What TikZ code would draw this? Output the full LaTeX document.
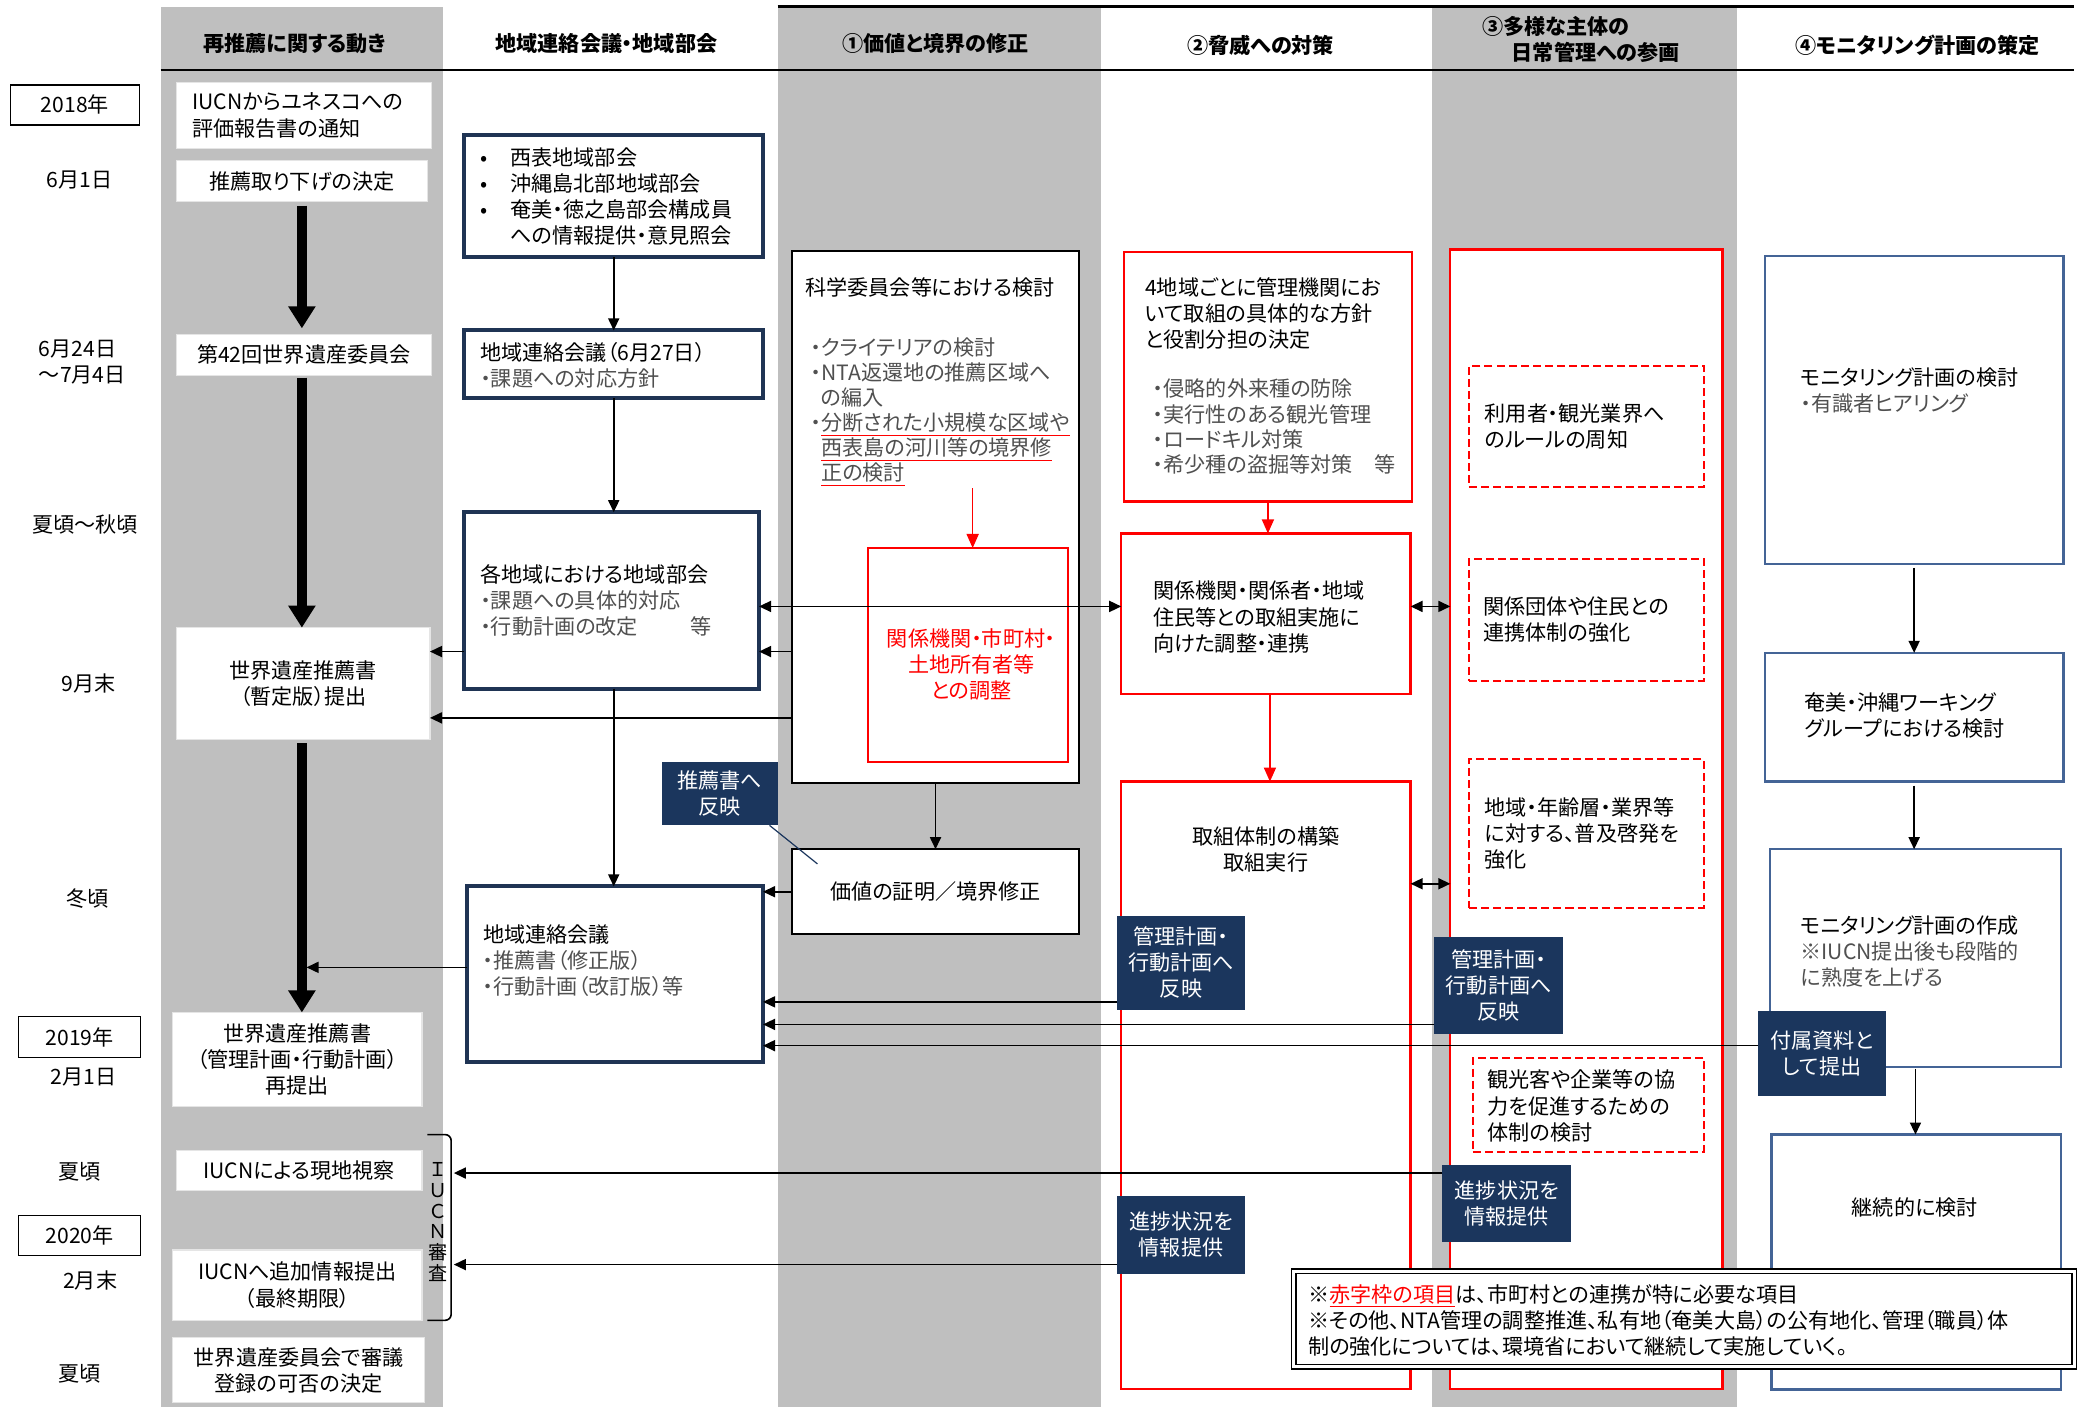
\documentclass[tikz,border=0pt]{standalone}
\usepackage{fontspec}
\setmainfont{Noto Sans CJK JP}[RawFeature=+palt]
\usetikzlibrary{arrows.meta}
\definecolor{colgray}{RGB}{191,191,191}
\definecolor{navyb}{RGB}{31,52,84}
\definecolor{navyf}{RGB}{27,54,93}
\definecolor{steel}{RGB}{68,100,150}
\definecolor{txtgray}{RGB}{80,80,80}
\definecolor{rd}{RGB}{255,0,0}
\newdimen\pxu \pxu=0.66pt
\newcommand\myind{\hphantom{・}}
\newcommand\rul[1]{{\color{rd}\underline{\textcolor{txtgray}{#1}}}}
\tikzset{
  tt/.tip={Triangle[width=5.5pt,length=6pt]},
  rt/.tip={Triangle[width=6pt,length=7pt]},
  bt/.tip={Triangle[width=13pt,length=11pt]},
}
\begin{document}
\begin{tikzpicture}[x=0.66pt,y=-0.66pt,
  font=\fontsize{10.5}{13}\selectfont,
  every node/.style={inner sep=0pt,outer sep=0pt},
  wbox/.style={draw=black!10,fill=white,line width=0.6pt},
  nbox/.style={draw=navyb,line width=2pt,fill=white},
  kbox/.style={draw=black,line width=1.1pt,fill=white},
  rbox/.style={draw=rd,line width=1.1pt,fill=white},
  rdash/.style={draw=rd,line width=1pt,dash pattern=on 4pt off 2pt,fill=white},
  bbox/.style={draw=steel,line width=1.2pt,fill=white},
  dbox/.style={fill=navyf,text=white,align=center},
  tbox/.style={draw=black,line width=0.8pt,fill=white},
  hdr/.style={font=\fontsize{10.5}{13}\selectfont\bfseries},
  arr/.style={-tt,line width=0.8pt},
  darr/.style={tt-tt,line width=0.8pt},
  rarr/.style={-rt,draw=rd,line width=0.8pt},
  bigarr/.style={-bt,line width=5pt},
  gl/.style={text=txtgray,align=left},
]
\useasboundingbox (0,0) rectangle (1566,1060.3);
% columns
\fill[colgray] (121,5) rectangle (334,1061);
\fill[colgray] (586,5) rectangle (830,1061);
\fill[colgray] (1079,5) rectangle (1309,1061);
\draw[line width=1.5pt] (586,5) -- (1563,5);
\draw[line width=1pt] (121,53) -- (1563,53);
% headers
\node[hdr] (h1) at (222,33) {再推薦に関する動き};
\node[hdr] (h2) at (457,33) {地域連絡会議・地域部会};
\node[hdr] (h3) at (705,33) {①価値と境界の修正};
\node[hdr] (h4) at (950,34) {②脅威への対策};
\node[hdr,anchor=west,align=left] (h5) at (1117,30) {③多様な主体の\\\hspace*{1.4em}日常管理への参画};
\node[hdr] (h6) at (1445,34) {④モニタリング計画の策定};
% time labels
\node[tbox,minimum width=97\pxu,minimum height=30\pxu] (y18) at (56.5,79) {2018年};
\node (t1) at (60,136) {6月1日};
\node[align=left] (t2) at (62,273) {6月24日\\～7月4日};
\node (t3) at (64,395) {夏頃～秋頃};
\node (t4) at (67,515) {9月末};
\node (t5) at (66,677) {冬頃};
\node[tbox,minimum width=92\pxu,minimum height=31\pxu] (y19) at (60,781.5) {2019年};
\node (t6) at (63,812) {2月1日};
\node (t7) at (60,883) {夏頃};
\node[tbox,minimum width=92\pxu,minimum height=30\pxu] (y20) at (60,931) {2020年};
\node (t8) at (68,965) {2月末};
\node (t9) at (60,1035) {夏頃};
% column 1
\node[wbox,minimum width=192\pxu,minimum height=50\pxu] (n1) at (229,87) {};
\node[anchor=west,align=left] (n1t) at (145,87) {IUCNからユネスコへの\\評価報告書の通知};
\node[wbox,minimum width=189\pxu,minimum height=31\pxu] (n2) at (227.5,136.5) {推薦取り下げの決定};
\node[wbox,minimum width=192\pxu,minimum height=31\pxu] (n3) at (229,267.5) {第42回世界遺産委員会};
\node[wbox,minimum width=191\pxu,minimum height=84\pxu,align=center] (n4) at (228.5,515) {世界遺産推薦書\\（暫定版）提出};
\node[wbox,minimum width=188\pxu,minimum height=71\pxu,align=center] (n5) at (224,798.5) {世界遺産推薦書\\（管理計画・行動計画）\\再提出};
\node[wbox,minimum width=185\pxu,minimum height=30\pxu] (n6) at (225.5,882) {IUCNによる現地視察};
\node[wbox,minimum width=188\pxu,minimum height=53\pxu,align=center] (n7) at (224,968.5) {IUCNへ追加情報提出\\（最終期限）};
\node[wbox,minimum width=190\pxu,minimum height=49\pxu,align=center] (n8) at (225,1032.5) {世界遺産委員会で審議\\登録の可否の決定};
\draw[bigarr,shorten <=2pt,shorten >=3pt] (n2.south) -- (n2.south |- n3.north);
\draw[bigarr,shorten <=1pt] (n3.south -| n2.south) -- (n2.south |- n4.north);
\draw[bigarr,shorten <=2pt] (n4.south -| n2.south) -- (n2.south |- n5.north);
% IUCN bracket
\draw[line width=0.8pt,rounded corners=3pt] (322,855) -- (340,855) -- (340,995) -- (322,995);
\node[align=center,font=\fontsize{9.5}{10.3}\selectfont] (iucn) at (330,921) {Ｉ\\Ｕ\\Ｃ\\Ｎ\\審\\査};
\coordinate (br1) at (342,884);
\coordinate (br2) at (342,953);
% column 2
\node[nbox,minimum width=225\pxu,minimum height=92\pxu] (A) at (462.5,148) {};
\node[anchor=west,align=left] (At) at (362,148) {\makebox[15pt][l]{•}西表地域部会\\\makebox[15pt][l]{•}沖縄島北部地域部会\\\makebox[15pt][l]{•}奄美・徳之島部会構成員\\\hspace*{15pt}への情報提供・意見照会};
\node[nbox,minimum width=225\pxu,minimum height=51\pxu] (B) at (462.5,274.5) {};
\node[anchor=west,align=left] (Bt) at (362,275) {地域連絡会議（6月27日）\\\textcolor{txtgray}{・課題への対応方針}};
\node[nbox,minimum width=222\pxu,minimum height=133\pxu] (C) at (461,452.5) {};
\node[anchor=west,align=left] (Ct) at (362,452.5) {各地域における地域部会\\\textcolor{txtgray}{・課題への具体的対応}\\\textcolor{txtgray}{・行動計画の改定\hspace{2.5em}等}};
\node[nbox,minimum width=223\pxu,minimum height=132\pxu] (D) at (463.5,734) {};
\node[anchor=west,align=left] (Dt) at (364,724) {地域連絡会議\\\textcolor{txtgray}{・推薦書（修正版）}\\\textcolor{txtgray}{・行動計画（改訂版）等}};
% column 3
\node[kbox,minimum width=216\pxu,minimum height=401\pxu] (K1) at (705,389.5) {};
\node[anchor=west] (K1t) at (607,217) {科学委員会等における検討};
\node[gl,anchor=west,font=\fontsize{10.5}{12.5}\selectfont] (K1l) at (611,310.5) {・クライテリアの検討\\・NTA返還地の推薦区域へ\\\myind の編入\\・\rul{分断された小規模な区域や}\\\myind\rul{西表島の河川等の境界修}\\\myind\rul{正の検討}};
\node[rbox,minimum width=151\pxu,minimum height=161\pxu] (R1) at (729.5,493.5) {};
\node[align=center,text=rd] (R1t) at (732,501) {関係機関・市町村・\\土地所有者等\\との調整};
\node[kbox,minimum width=216\pxu,minimum height=64\pxu] (K2) at (705,672) {価値の証明／境界修正};
\node[dbox,minimum width=87\pxu,minimum height=48\pxu] (D1) at (542.5,598) {推薦書へ\\反映};
% column 4
\node[rbox,minimum width=217\pxu,minimum height=188\pxu] (R2) at (955.5,284) {};
\node[anchor=west,align=left] (R2t) at (863,236.5) {4地域ごとに管理機関にお\\いて取組の具体的な方針\\と役割分担の決定};
\node[gl,anchor=west,font=\fontsize{10.5}{12.5}\selectfont] (R2l) at (869,321.5) {・侵略的外来種の防除\\・実行性のある観光管理\\・ロードキル対策\\・希少種の盗掘等対策\hspace{1em}等};
\node[rbox,minimum width=218\pxu,minimum height=121\pxu] (R3) at (954,462.5) {};
\node[anchor=west,align=left] (R3t) at (869,465) {関係機関・関係者・地域\\住民等との取組実施に\\向けた調整・連携};
\node[rbox,minimum width=218\pxu,minimum height=458\pxu] (R4) at (954,818) {};
\node[align=center] (R4t) at (954,640) {取組体制の構築\\取組実行};
\node[dbox,minimum width=96\pxu,minimum height=71\pxu] (D2) at (890,725.5) {管理計画・\\行動計画へ\\反映};
\node[dbox,minimum width=96\pxu,minimum height=59\pxu] (D3) at (890,930.5) {進捗状況を\\情報提供};
% column 5
\node[rbox,minimum width=205\pxu,minimum height=859\pxu] (R5) at (1195.5,617.5) {};
\node[rdash,minimum width=177\pxu,minimum height=91\pxu] (RD1) at (1195.5,321.5) {};
\node[anchor=west,align=left] (RD1t) at (1119,321.5) {利用者・観光業界へ\\のルールの周知};
\node[rdash,minimum width=177\pxu,minimum height=92\pxu] (RD2) at (1195.5,467) {};
\node[anchor=west,align=left] (RD2t) at (1118,467) {関係団体や住民との\\連携体制の強化};
\node[rdash,minimum width=177\pxu,minimum height=112\pxu] (RD3) at (1195.5,628) {};
\node[anchor=west,align=left] (RD3t) at (1119,628) {地域・年齢層・業界等\\に対する、普及啓発を\\強化};
\node[rdash,minimum width=174\pxu,minimum height=71\pxu] (RD4) at (1197,832.5) {};
\node[anchor=west,align=left] (RD4t) at (1121,833.5) {観光客や企業等の協\\力を促進するための\\体制の検討};
\node[dbox,minimum width=97\pxu,minimum height=73\pxu] (D4) at (1129.5,742.5) {管理計画・\\行動計画へ\\反映};
\node[dbox,minimum width=97\pxu,minimum height=58\pxu] (D5) at (1135.5,907) {進捗状況を\\情報提供};
% column 6
\node[bbox,minimum width=225\pxu,minimum height=232\pxu] (B1) at (1442.5,309) {};
\node[anchor=west,align=left] (B1t) at (1357,294.5) {モニタリング計画の検討\\\textcolor{txtgray}{・有識者ヒアリング}};
\node[bbox,minimum width=225\pxu,minimum height=97\pxu] (B2) at (1442.5,540.5) {};
\node[anchor=west,align=left] (B2t) at (1360,539) {奄美・沖縄ワーキング\\グループにおける検討};
\node[bbox,minimum width=219\pxu,minimum height=164\pxu] (B3) at (1443.5,722) {};
\node[anchor=west,align=left] (B3t) at (1357,717) {モニタリング計画の作成\\\textcolor{txtgray}{※IUCN提出後も段階的}\\\textcolor{txtgray}{に熟度を上げる}};
\node[bbox,minimum width=218\pxu,minimum height=192\pxu] (B4) at (1444,951) {};
\node (B4t) at (1443,910) {継続的に検討};
\node[dbox,minimum width=96\pxu,minimum height=64\pxu] (D6) at (1373,794) {付属資料と\\して提出};
% level coordinates
\coordinate (y457) at (0,457);
\coordinate (y491) at (0,491);
\coordinate (y541) at (0,541);
\coordinate (y666) at (0,666);
\coordinate (y755) at (0,755);
\coordinate (y772) at (0,772);
\coordinate (y788) at (0,788);
\coordinate (ta) at (231,729);
\coordinate (ru) at (733,368);
\coordinate (cl) at (616,651);
% connectors column 1/2
\draw[arr] (D.west |- ta) -- (ta);
\draw[arr] (A.south) -- (A.south |- B.north);
\draw[arr] (B.south) -- (B.south |- C.north);
\draw[arr] (C.south -| B.south) -- (B.south |- D.north);
\draw[arr] (C.west |- y491) -- (n4.east |- y491);
\draw[arr] (K1.west |- y541) -- (n4.east |- y541);
\draw[darr] (C.east |- y457) -- (R3.west |- y457);
\draw[arr] (K1.west |- y491) -- (C.east |- y491);
\draw[arr] (K2.west) -- (K2.west -| D.east);
\draw[arr] (K1.south) -- (K1.south |- K2.north);
\draw[rarr] (ru) -- (ru |- R1.north);
\draw[navyf,line width=0.6pt] ([xshift=-4pt]D1.south east) -- (cl);
% column 4/5
\draw[rarr] (R2.south) -- (R2.south |- R3.north);
\draw[rarr] ([xshift=2pt]R3.south) -- ([xshift=2pt]R3.south |- R4.north);
\draw[darr] (R3.east |- y457) -- (R5.west |- y457);
\draw[darr] (R4.east |- y666) -- (R5.west |- y666);
\draw[arr] (D2.west |- y755) -- (D.east |- y755);
\draw[arr] (D4.west |- y772) -- (D.east |- y772);
\draw[arr] (D6.west |- y788) -- (D.east |- y788);
\draw[arr] (D5.west |- br1) -- (br1);
\draw[arr] (D3.west |- br2) -- (br2);
% column 6
\draw[arr] ([yshift=-2pt]B1.south) -- (B1.south |- B2.north);
\draw[arr] ([yshift=-2pt]B2.south) -- (B2.south |- B3.north);
\draw[arr] ([yshift=-1pt]B3.south) -- (B3.south |- B4.north);
% note
\node[draw=black,double,double distance=1.5pt,line width=0.7pt,fill=white,minimum width=588\pxu,minimum height=72\pxu] (note) at (1269,994) {};
\node[anchor=west,align=left] (notet) at (986,995) {※{\color{rd}\underline{赤字枠の項目}}は、市町村との連携が特に必要な項目\\※その他、NTA管理の調整推進、私有地（奄美大島）の公有地化、管理（職員）体\\制の強化については、環境省において継続して実施していく。};
\end{tikzpicture}
\end{document}
